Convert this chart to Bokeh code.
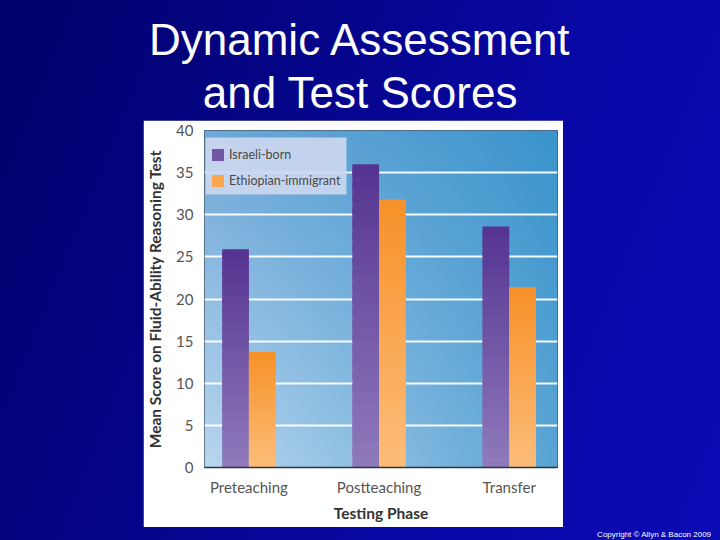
import numpy as np
from bokeh.plotting import figure
from bokeh.layouts import column, row
from bokeh.models import (Range1d, FixedTicker, Legend, LegendItem,
                          ColumnDataSource, Spacer, BoxAnnotation)
from bokeh.core.properties import value
from bokeh.embed import file_html
from bokeh.resources import INLINE

# ---------------- data ----------------
phases = ["Preteaching", "Postteaching", "Transfer"]
groups = ["Israeli-born", "Ethiopian-immigrant"]
israeli_born = [25.9, 36.0, 28.6]
ethiopian_immigrant = [13.7, 31.8, 21.4]
y_ticks = [0, 5, 10, 15, 20, 25, 30, 35, 40]
title_lines = ["Dynamic Assessment", "and Test Scores"]
y_label = "Mean Score on Fluid-Ability Reasoning Test"
x_label = "Testing Phase"
copyright_text = "Copyright © Allyn & Bacon 2009"

# ---------------- layout (px) ----------------
W = 720
TITLE_H = 120
LEFT_W, CHART_W, RIGHT_W = 143, 420, 157
CHART_H = 407
FOOT_H = 13
FL, FR, FT, FB = 56, 414, 10, 347       # plot frame inside the chart figure
X0, X1 = -0.341, 2.371
BAR_W = 0.205


def hex2rgb(h):
    return np.array([int(h[i:i + 2], 16) for i in (1, 3, 5)], float)


def mix(c0, c1, t):
    c = hex2rgb(c0) * (1 - t) + hex2rgb(c1) * t
    return "#%02x%02x%02x" % tuple(int(round(v)) for v in c)


def blank(width, height):
    f = figure(width=width, height=height, output_backend="svg", title=None,
               toolbar_location=None, x_range=Range1d(0, width),
               y_range=Range1d(0, height), min_border=0)
    f.axis.visible = False
    f.grid.grid_line_color = None
    f.outline_line_color = None
    f.background_fill_alpha = 0
    f.border_fill_alpha = 0
    return f


# ---------------- title ----------------
tfig = blank(W, TITLE_H)
tfig.text(x=[360, 360], y=[TITLE_H - 55 + 16, TITLE_H - 108 + 16],
          text=title_lines, text_align="center", text_baseline="alphabetic",
          text_font=value("Liberation Sans"), text_font_size="44px",
          text_color="white")

# ---------------- footer ----------------
ffig = blank(W, FOOT_H)
ffig.text(x=[711], y=[6], text=[copyright_text], text_align="right",
          text_baseline="alphabetic", text_font=value("Liberation Sans"),
          text_font_size="8px", text_color="white")

# ---------------- chart ----------------
p = figure(width=CHART_W, height=CHART_H, output_backend="svg", title=None,
           toolbar_location=None,
           x_range=Range1d(X0, X1), y_range=Range1d(0, 40),
           min_border_left=FL, min_border_right=CHART_W - FR,
           min_border_top=FT, min_border_bottom=CHART_H - FB)
p.border_fill_color = "white"
p.background_fill_color = "#8fbde3"
p.outline_line_color = "#4a5a6e"
p.outline_line_width = 1

# frame gradient background
tl, tr, bl, br = map(hex2rgb, ["#6ea8d8", "#3a94cc", "#bad6ee", "#5aa4d4"])
ny, nx = FB - FT, FR - FL
u = np.linspace(0, 1, nx)[None, :, None]
v = np.linspace(0, 1, ny)[:, None, None]
col = (1 - u) * (1 - v) * bl + u * (1 - v) * br + (1 - u) * v * tl + u * v * tr
img = np.zeros((ny, nx, 4), np.uint8)
img[..., :3] = np.clip(col.round(), 0, 255)
img[..., 3] = 255
p.image_rgba(image=[img.view(np.uint32).reshape(ny, nx)], x=X0, y=0,
             dw=X1 - X0, dh=40, level="image")

# bars with vertical gradient (each bar drawn as stacked slices)
N = 24


def gradient_source(values, offset, c_bottom, c_top):
    xs, bots, tops, cols = [], [], [], []
    for i, val in enumerate(values):
        for k in range(N):
            xs.append(i + offset)
            bots.append(val * k / N)
            tops.append(min(val, val * (k + 1.6) / N))
            cols.append(mix(c_bottom, c_top, k / (N - 1)))
    return ColumnDataSource(dict(x=xs, bottom=bots, top=tops, color=cols))


src1 = gradient_source(israeli_born, -BAR_W / 2, "#8e79bb", "#563592")
src2 = gradient_source(ethiopian_immigrant, BAR_W / 2, "#fcbc78", "#f7922a")
r1 = p.vbar(x="x", bottom="bottom", top="top", width=BAR_W, fill_color="color",
            line_color=None, source=src1)
r2 = p.vbar(x="x", bottom="bottom", top="top", width=BAR_W, fill_color="color",
            line_color=None, source=src2)

# grid & axes
p.xgrid.grid_line_color = None
p.ygrid.ticker = FixedTicker(ticks=y_ticks[1:-1])
p.ygrid.grid_line_color = "white"
p.ygrid.grid_line_width = 2
p.ygrid.grid_line_alpha = 0.95

ax = p.yaxis[0]
ax.ticker = FixedTicker(ticks=y_ticks)
ax.axis_line_color = None
ax.major_tick_line_color = None
ax.minor_tick_line_color = None
ax.major_label_text_font = "Lato"
ax.major_label_text_font_size = "15px"
ax.major_label_text_color = "#555555"
ax.major_label_standoff = 5
ax.axis_label = y_label
ax.axis_label_text_font = "Lato"
ax.axis_label_text_font_style = "bold"
ax.axis_label_text_font_size = "15.5px"
ax.axis_label_text_color = "#333333"
ax.axis_label_standoff = 9

bx = p.xaxis[0]
bx.ticker = FixedTicker(ticks=[0, 1, 2])
bx.major_label_overrides = {i: name for i, name in enumerate(phases)}
bx.axis_line_color = "#2a3440"
bx.axis_line_width = 1.5
bx.major_tick_line_color = None
bx.minor_tick_line_color = None
bx.major_label_text_font = "Lato"
bx.major_label_text_font_size = "15px"
bx.major_label_text_color = "#555555"
bx.major_label_standoff = 4
bx.axis_label = x_label
bx.axis_label_text_font = "Lato"
bx.axis_label_text_font_style = "bold"
bx.axis_label_text_font_size = "15.5px"
bx.axis_label_text_color = "#333333"
bx.axis_label_standoff = 5

# legend panel (background box) and legend
p.add_layout(BoxAnnotation(left=62, right=203, top=17, bottom=74,
                           left_units="canvas", right_units="canvas",
                           top_units="canvas", bottom_units="canvas",
                           fill_color="#ccd7ef", fill_alpha=0.92,
                           line_alpha=0))
legend = Legend(items=[LegendItem(label=groups[0], renderers=[r1], index=N // 2),
                       LegendItem(label=groups[1], renderers=[r2], index=N // 2)],
                location=(6, 279), margin=0, padding=7, spacing=11,
                glyph_width=15, glyph_height=15, label_height=15,
                label_standoff=4,
                label_text_font="Lato", label_text_font_size="12.5px",
                label_text_color="#4a4a4a",
                background_fill_alpha=0, border_line_color=None)
p.add_layout(legend)

layout = column(tfig,
                row(Spacer(width=LEFT_W, height=CHART_H), p,
                    Spacer(width=RIGHT_W, height=CHART_H), spacing=0),
                ffig,
                spacing=0)

html = file_html(layout, INLINE)
css = ("<style>html{height:100%;background:linear-gradient(112deg,"
       "#01016a 0%,#040488 35%,#0808a6 65%,#0b0bb6 100%) fixed;}"
       "body{margin:0;background:transparent;overflow:hidden;}</style>")
html = html.replace("<head>", "<head>" + css, 1)
open("out.html", "w").write(html)
